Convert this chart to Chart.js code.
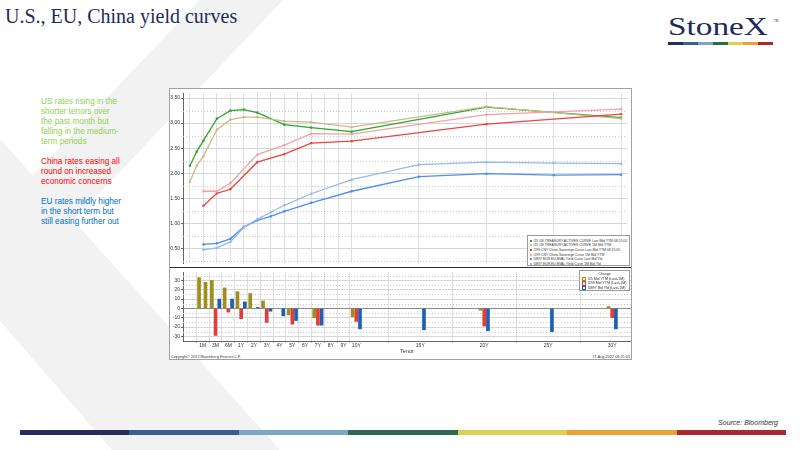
<!DOCTYPE html>
<html><head><meta charset="utf-8">
<script src="https://cdn.jsdelivr.net/npm/chart.js@4.4.1/dist/chart.umd.min.js"></script>
<style>
html,body{margin:0;padding:0;width:800px;height:450px;overflow:hidden;background:#fff;font-family:'Liberation Sans',Arial,sans-serif;}
.abs{position:absolute;}
#title{left:5px;top:6px;font-family:'Liberation Serif',serif;font-size:20px;line-height:20px;color:#1f2a5c;white-space:nowrap;}
#logo{left:668px;top:14px;font-family:'Liberation Serif',serif;font-size:26px;line-height:26px;color:#1f2a5c;transform:scaleX(1.28);transform-origin:0 0;white-space:nowrap;}
#tm{left:774px;top:19px;font-size:3px;color:#1f2a5c;}
#notes{left:41px;top:96.6px;font-size:8.2px;line-height:10px;width:120px;}
#notes p{margin:0 0 10px 0;}
#frame{left:169px;top:88px;width:461px;height:270px;border:1px solid #9aa2b0;background:#fff;}
#sep{left:170px;top:266.8px;width:461px;height:1.6px;background:#2e2e2e;}
canvas{position:absolute;}
.leg{background:#fff;border:0.8px solid #9a9a9a;color:#333;white-space:nowrap;box-sizing:border-box;overflow:hidden;}
.sw{display:inline-block;width:2px;height:2px;margin-right:1.5px;vertical-align:middle;}
.hsw{display:inline-block;width:2.2px;height:2.2px;margin-right:1.5px;vertical-align:middle;border:0.6px solid;background:#f6f6f6;}
.tiny{font-size:3.8px;color:#444;white-space:nowrap;}
#source{right:22px;top:419px;font-size:7px;font-style:italic;color:#333;}
</style></head><body>
<svg class="abs" style="left:0;top:0" width="800" height="450">
  <polygon points="200,0 283,0 0,298 0,210" fill="#f2f2f2"/>
  <polygon points="0,139 280,450 112,450 0,321" fill="#f2f2f2"/>
</svg>
<div id="title" class="abs">U.S., EU, China yield curves</div>
<div id="logo" class="abs">StoneX</div>
<div id="tm" class="abs">TM</div>
<div id="logobar" class="abs" style="left:668px;top:42px;height:2.5px;width:105px;display:flex;"></div>
<div id="notes" class="abs">
  <p style="color:#92d050">US rates rising in the<br>shorter tenors over<br>the past month but<br>falling in the medium-<br>term periods</p>
  <p style="color:#ff0000">China rates easing all<br>round on increased<br>economic concerns</p>
  <p style="color:#0070c0">EU rates mildly higher<br>in the short term but<br>still easing further out</p>
</div>
<div id="frame" class="abs"></div>
<canvas id="topChart" width="461" height="178" style="left:170px;top:89px"></canvas>
<canvas id="botChart" width="461" height="90" style="left:170px;top:268px"></canvas>
<div id="sep" class="abs"></div>
<div id="legTop" class="abs leg" style="left:527px;top:235px;width:103px;height:31px;padding:2.6px 0 0 2px;font-size:3.4px;line-height:4.65px;"></div>
<div id="legBot" class="abs leg" style="left:579px;top:270px;width:51px;height:21px;padding:1.2px 0 0 2px;font-size:3.6px;line-height:4.6px;"></div>
<div class="abs tiny" style="left:171px;top:354.5px;">Copyright© 2022 Bloomberg Finance L.P.</div>
<div class="abs tiny" style="right:170px;top:354.5px;">17-Aug-2022 08:25:05</div>
<div id="stripe" class="abs" style="left:20px;top:430px;width:766px;height:5px;display:flex;"></div>
<div id="source" class="abs">Source: Bloomberg</div>
<script>
// ---------------- data ----------------
const tenorTickLabels = ['1M','3M','6M','1Y','2Y','3Y','4Y','5Y','6Y','7Y','8Y','9Y','10Y','15Y','20Y','25Y','30Y'];
const yieldTicks = [0.50, 1.00, 1.50, 2.00, 2.50, 3.00, 3.50];
const changeTicks = [-30, -20, -10, 0, 10, 20, 30];

const usTenors = ['1M','2M','3M','6M','1Y','2Y','3Y','5Y','7Y','10Y','20Y','30Y'];
const usLast   = [2.15, 2.43, 2.65, 3.09, 3.25, 3.27, 3.21, 2.97, 2.91, 2.83, 3.32, 3.11];
const us1M     = [1.83, 2.15, 2.34, 2.87, 3.07, 3.12, 3.12, 3.04, 3.02, 2.92, 3.33, 3.09];

const cnTenors = ['3M','6M','1Y','3Y','5Y','7Y','10Y','20Y','30Y'];
const cnLast   = [1.35, 1.60, 1.68, 2.22, 2.38, 2.60, 2.64, 2.98, 3.18];
const cn1M     = [1.64, 1.64, 1.80, 2.37, 2.56, 2.79, 2.78, 3.17, 3.28];

const euTenors = ['3M','6M','1Y','2Y','3Y','4Y','5Y','7Y','10Y','15Y','20Y','25Y','30Y'];
const euLast   = [0.58, 0.60, 0.69, 0.93, 1.06, 1.14, 1.24, 1.41, 1.64, 1.93, 1.99, 1.96, 1.97];
const eu1M     = [0.47, 0.51, 0.63, 0.92, 1.08, 1.22, 1.36, 1.59, 1.87, 2.17, 2.22, 2.20, 2.19];

const usChange = [33, 28, 30, 22, 18, 16, 8, -7, -10, -9, -2, 2];
const cnChange = [-29, -4, -11, -15, -17, -18, -14, -19, -10];
const euChange = [10, 10, 7, 1, -3, -8, -13, -18, -22, -23, -24, -25, -22];

const curveNames = [
  'I25 US TREASURY ACTIVES CURVE Last Mid YTM 08:25:05',
  'I25 US TREASURY ACTIVES CURVE 1M Mid YTM',
  'I299 CNY China Sovereign Curve Last Mid YTM 08:25:05',
  'I299 CNY China Sovereign Curve 1M Mid YTM',
  'I0897 EUR EU BVAL Yield Curve Last Bid Yld',
  'I0897 EUR EU BVAL Yield Curve 1M Bid Yld'
];
const changeTitle = 'Change';
const changeNames = ['I25 Mid YTM (Last-1M)', 'I299 Mid YTM (Last-1M)', 'I0897 Bid Yld (Last-1M)'];

// ---------------- styling ----------------
const curveColors = ['#2ca62c', '#c9bb86', '#ee4343', '#f3a2a2', '#4d8ef0', '#93b9ef'];
const barColors = ['#9c8f1d', '#e43b3b', '#1d5fb5'];
const brandColors = ['#232d5e', '#3a5f8e', '#7aa6c8', '#2b6a4e', '#dcd058', '#e9a233', '#a8292f'];

// Bloomberg tenor axis: evenly spaced slots up to 10Y, then 5 slots per 5 years
const axisSlot = {'1M':0,'2M':0.5,'3M':1,'6M':2,'1Y':3,'2Y':4,'3Y':5,'4Y':6,'5Y':7,'6Y':8,'7Y':9,'8Y':10,'9Y':11,'10Y':12,'15Y':17,'20Y':22,'25Y':27,'30Y':32};
const slotLabel = {};
tenorTickLabels.forEach(t => slotLabel[axisSlot[t]] = t);
const X_MIN = -0.515, X_MAX = 32.44;

const pts = (tenors, vals) => tenors.map((t, i) => ({x: axisSlot[t], y: vals[i]}));

// decorations
brandColors.forEach(c => {
  const d1 = document.createElement('div'); d1.style.cssText = 'flex:1;background:' + c; document.getElementById('logobar').appendChild(d1);
  const d2 = document.createElement('div'); d2.style.cssText = 'flex:1;background:' + c; document.getElementById('stripe').appendChild(d2);
});
document.getElementById('legTop').innerHTML = curveNames.map((n, i) =>
  '<div><span class="sw" style="background:' + curveColors[i] + '"></span>' + n + '</div>').join('');
document.getElementById('legBot').innerHTML = '<div style="text-align:center;padding-right:2px">' + changeTitle + '</div>' +
  changeNames.map((n, i) => '<div><span class="hsw" style="border-color:' + barColors[i] + '"></span>' + n + '</div>').join('');

const minorGrid = {
  id: 'minorGrid',
  beforeDatasetsDraw(chart, args, opts) {
    const {ctx, chartArea: a, scales: {y}} = chart;
    ctx.save();
    ctx.strokeStyle = opts.color; ctx.lineWidth = 1; ctx.setLineDash([1, 2]);
    opts.values.forEach(v => {
      const py = Math.round(y.getPixelForValue(v)) + 0.5;
      ctx.beginPath(); ctx.moveTo(a.left, py); ctx.lineTo(a.right, py); ctx.stroke();
    });
    ctx.restore();
  }
};

const tickFont = {family: "'Liberation Sans', Arial, sans-serif", size: 5};

const lineDs = (label, tenors, vals, color) => ({
  label, data: pts(tenors, vals), borderColor: color, backgroundColor: color,
  borderWidth: 1.3, pointStyle: 'rect', pointRadius: 1.6, pointBorderWidth: 0, tension: 0
});

new Chart(document.getElementById('topChart'), {
  type: 'line',
  data: {datasets: [
    lineDs(curveNames[5], euTenors, eu1M, curveColors[5]),
    lineDs(curveNames[4], euTenors, euLast, curveColors[4]),
    lineDs(curveNames[3], cnTenors, cn1M, curveColors[3]),
    lineDs(curveNames[2], cnTenors, cnLast, curveColors[2]),
    lineDs(curveNames[1], usTenors, us1M, curveColors[1]),
    lineDs(curveNames[0], usTenors, usLast, curveColors[0])
  ]},
  plugins: [minorGrid],
  options: {
    responsive: false, animation: false,
    layout: {padding: 0},
    plugins: {legend: {display: false}, tooltip: {enabled: false},
      minorGrid: {color: '#c9c9c9', values: [0.25, 0.75, 1.25, 1.75, 2.25, 2.75, 3.25]}},
    scales: {
      x: {type: 'linear', min: X_MIN, max: X_MAX,
        afterBuildTicks: s => { s.ticks = tenorTickLabels.map(t => ({value: axisSlot[t]})); },
        ticks: {display: false}, grid: {color: '#e0e0e0', drawTicks: false}, border: {display: false},
        afterFit: s => { s.height = 0; }},
      y: {min: 0.208, max: 3.601,
        afterBuildTicks: s => { s.ticks = yieldTicks.map(v => ({value: v})); },
        ticks: {callback: v => Number(v).toFixed(2), font: tickFont, color: '#333', padding: 1},
        grid: {color: '#d6d6d6', tickLength: 2, tickColor: '#666'},
        border: {color: '#666'},
        afterFit: s => { s.width = 13; }}
    }
  }
});

const barDs = (label, tenors, vals, color) => ({
  label, data: pts(tenors, vals), backgroundColor: color, borderWidth: 0,
  barThickness: 3.7, maxBarThickness: 3
});

new Chart(document.getElementById('botChart'), {
  type: 'bar',
  data: {datasets: [
    barDs(changeNames[0], usTenors, usChange, barColors[0]),
    barDs(changeNames[1], cnTenors, cnChange, barColors[1]),
    barDs(changeNames[2], euTenors, euChange, barColors[2])
  ]},
  plugins: [minorGrid],
  options: {
    responsive: false, animation: false,
    layout: {padding: {top: 1, left: 0, right: 0, bottom: 0}},
    plugins: {legend: {display: false}, tooltip: {enabled: false},
      minorGrid: {color: '#c9c9c9', values: [-25, -15, -5, 5, 15, 25, 35]}},
    scales: {
      x: {type: 'linear', min: X_MIN, max: X_MAX,
        afterBuildTicks: s => { s.ticks = tenorTickLabels.map(t => ({value: axisSlot[t]})); },
        ticks: {callback: v => slotLabel[v], font: tickFont, color: '#333', padding: 0, autoSkip: false, maxRotation: 0},
        grid: {color: '#e0e0e0', tickLength: 1.5, tickColor: '#666'},
        border: {color: '#666'},
        title: {display: true, text: 'Tenor', font: {family: "'Liberation Sans', Arial, sans-serif", size: 5.5}, color: '#333', padding: {top: 0, bottom: 3.7}},
        afterFit: s => { s.height = 17; }},
      y: {min: -35, max: 39.1,
        afterBuildTicks: s => { s.ticks = changeTicks.map(v => ({value: v})); },
        ticks: {callback: v => String(v), font: tickFont, color: '#333', padding: 1},
        grid: {color: ctx => (ctx.tick && ctx.tick.value === 0) ? '#8a8a8a' : '#d6d6d6', tickLength: 2, tickColor: '#666'},
        border: {color: '#666'},
        afterFit: s => { s.width = 13; }}
    }
  }
});
</script>
</body></html>
